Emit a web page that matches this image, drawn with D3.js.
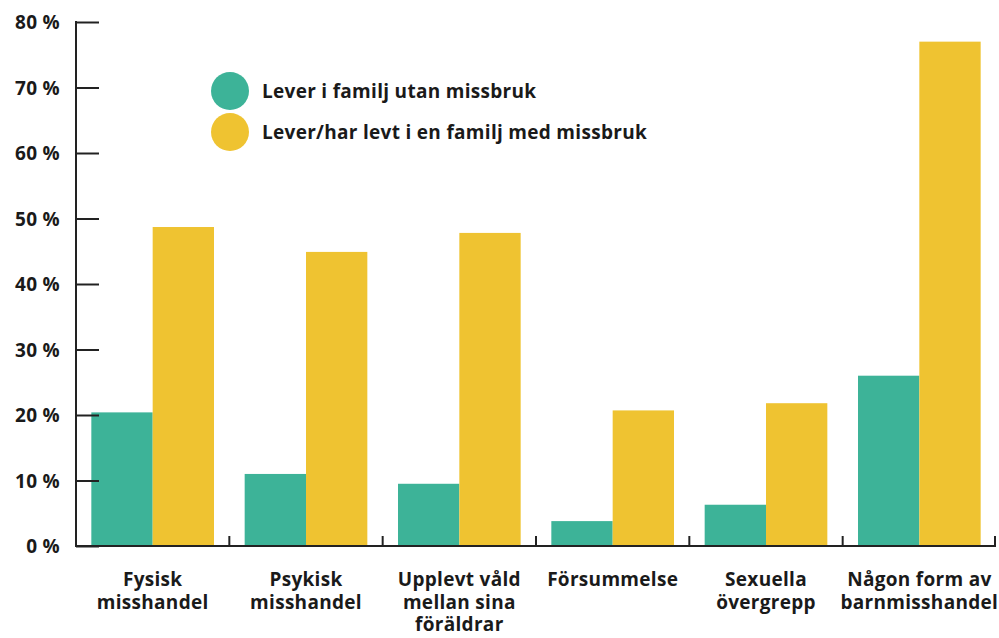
<!DOCTYPE html>
<html>
<head>
<meta charset="utf-8">
<script src="https://cdn.jsdelivr.net/npm/d3@7"></script>
<style>
  html, body { margin: 0; padding: 0; background: #fff; }
  text { font-family: "Open Sans", "Noto Sans", sans-serif; font-weight: 700; fill: #1a1a1a; letter-spacing: 0.3px; }
</style>
</head>
<body>
<div id="chart"></div>
<script>
// Data
const categories = [
  ['Fysisk', 'misshandel'],
  ['Psykisk', 'misshandel'],
  ['Upplevt våld', 'mellan sina', 'föräldrar'],
  ['Försummelse'],
  ['Sexuella', 'övergrepp'],
  ['Någon form av', 'barnmisshandel']
];
const seriesNames = ['Lever i familj utan missbruk', 'Lever/har levt i en familj med missbruk'];
const utanMissbruk = [20.4, 11.0, 9.5, 3.8, 6.3, 26.0];
const medMissbruk = [48.7, 44.9, 47.8, 20.7, 21.8, 77.0];
const yTicks = [0, 10, 20, 30, 40, 50, 60, 70, 80];
const colors = ['#3db398', '#efc331'];

const width = 999, height = 638;
const margin = { top: 22, right: 3, bottom: 92, left: 76 };
const fontSize = 19;

const svg = d3.select('#chart').append('svg')
  .attr('width', width)
  .attr('height', height);

const keys = categories.map((c, i) => i);

// Scales
const x = d3.scaleBand()
  .domain(keys)
  .range([margin.left, width - margin.right])
  .paddingInner(0.2)
  .paddingOuter(0.1);

const xSub = d3.scaleBand()
  .domain([0, 1])
  .range([0, x.bandwidth()]);

const y = d3.scaleLinear()
  .domain([0, 80])
  .range([height - margin.bottom, margin.top]);

// Bars
const series = [utanMissbruk, medMissbruk];
const groups = svg.append('g')
  .selectAll('g')
  .data(keys)
  .join('g')
  .attr('transform', d => `translate(${x(d)},0)`);

groups.selectAll('rect')
  .data(d => series.map((s, si) => ({ si, v: s[d] })))
  .join('rect')
  .attr('x', d => xSub(d.si))
  .attr('width', xSub.bandwidth())
  .attr('y', d => y(d.v))
  .attr('height', d => y(0) - y(d.v))
  .attr('fill', d => colors[d.si]);

// Y axis (ticks pointing into the chart)
const yAxis = svg.append('g')
  .attr('transform', `translate(${margin.left},0)`)
  .call(d3.axisRight(y).tickValues(yTicks).tickSize(23).tickFormat(d => d + ' %'));
yAxis.select('.domain').remove();
yAxis.selectAll('.tick line').attr('stroke', '#222').attr('stroke-width', 2);
yAxis.selectAll('.tick text')
  .attr('x', -16)
  .attr('text-anchor', 'end')
  .attr('font-size', fontSize)
  .attr('dy', '0.35em');
svg.append('line')
  .attr('x1', margin.left).attr('x2', margin.left)
  .attr('y1', y(80) - 1).attr('y2', y(0) + 1)
  .attr('stroke', '#222').attr('stroke-width', 2);

// X axis baseline and boundary ticks
const base = y(0);
svg.append('line')
  .attr('x1', margin.left - 1).attr('x2', width - margin.right)
  .attr('y1', base).attr('y2', base)
  .attr('stroke', '#222').attr('stroke-width', 2);

const boundaries = d3.range(1, categories.length + 1).map(i => margin.left + i * x.step());
svg.append('g')
  .selectAll('line')
  .data(boundaries)
  .join('line')
  .attr('x1', d => Math.min(d, width - margin.right - 1))
  .attr('x2', d => Math.min(d, width - margin.right - 1))
  .attr('y1', base)
  .attr('y2', base - 10)
  .attr('stroke', '#222')
  .attr('stroke-width', 2);

// X labels
const labels = svg.append('g')
  .selectAll('text')
  .data(keys)
  .join('text')
  .attr('text-anchor', 'middle')
  .attr('font-size', fontSize)
  .attr('transform', d => `translate(${x(d) + x.bandwidth() / 2},${base + 40})`);

labels.selectAll('tspan')
  .data(d => categories[d])
  .join('tspan')
  .attr('x', 0)
  .attr('y', (d, i) => i * 22.5)
  .text(d => d);

// Legend
const legend = svg.append('g')
  .attr('transform', 'translate(230,91)');

const items = legend.selectAll('g')
  .data(seriesNames)
  .join('g')
  .attr('transform', (d, i) => `translate(0,${i * 41})`);

items.append('circle')
  .attr('r', 19)
  .attr('fill', (d, i) => colors[i]);

items.append('text')
  .attr('x', 32)
  .attr('dy', '0.35em')
  .attr('font-size', fontSize)
  .text(d => d);
</script>
</body>
</html>
